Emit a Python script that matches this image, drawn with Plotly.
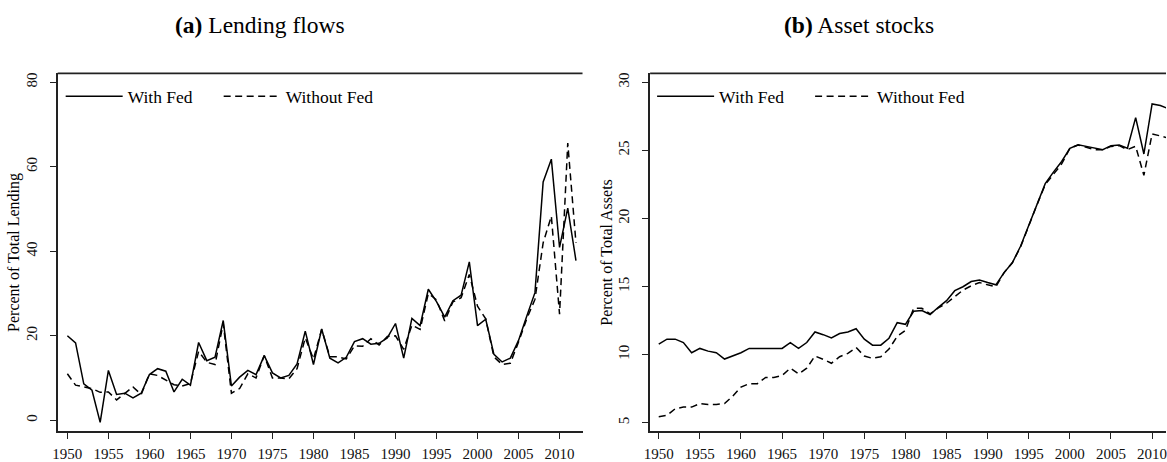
import plotly.graph_objects as go

years = list(range(1950, 2013))

lending_with_fed = [
    20.0, 18.3, 8.6, 7.1, -0.5, 11.8, 6.1, 6.4, 5.3, 6.4,
    10.8, 12.2, 11.6, 6.7, 9.7, 8.3, 18.4, 14.1, 14.9, 23.6,
    8.1, 10.2, 11.8, 10.8, 15.3, 11.2, 10.0, 10.6, 13.3, 21.1,
    13.2, 21.6, 14.7, 13.6, 14.9, 18.6, 19.3, 18.0, 18.2, 19.5,
    22.9, 14.7, 24.1, 22.4, 31.0, 28.1, 24.4, 28.3, 29.6, 37.5,
    22.4, 23.9, 15.6, 13.8, 14.7, 18.9, 24.6, 30.2, 56.4, 61.8,
    40.9, 50.2, 37.8,
]
lending_without_fed = [
    11.0, 8.3, 7.9, 7.5, 6.6, 6.7, 4.8, 6.4, 7.9, 6.1,
    11.0, 10.6, 9.5, 8.4, 8.1, 8.7, 16.3, 13.7, 13.2, 22.9,
    6.4, 7.5, 11.0, 10.0, 15.3, 10.0, 10.0, 9.8, 12.2, 19.5,
    14.5, 21.5, 15.0, 15.0, 14.5, 17.6, 17.5, 19.3, 17.8, 19.8,
    20.0, 16.8, 22.5, 21.5, 30.0, 28.5, 23.5, 28.0, 29.0, 34.5,
    27.0, 24.0, 15.0, 13.2, 13.5, 18.5, 24.0, 28.6, 42.0, 48.3,
    25.1, 65.6, 42.0,
]
assets_with_fed = [
    10.76, 11.13, 11.13, 10.88, 10.13, 10.45, 10.25, 10.13, 9.67, 9.89,
    10.13, 10.45, 10.45, 10.45, 10.45, 10.45, 10.88, 10.45, 10.88, 11.66,
    11.46, 11.22, 11.54, 11.66, 11.90, 11.13, 10.69, 10.69, 11.20, 12.34,
    12.22, 13.18, 13.23, 12.94, 13.47, 13.96, 14.69, 14.98, 15.36, 15.48,
    15.29, 15.12, 16.02, 16.74, 17.95, 19.53, 21.03, 22.55, 23.40, 24.18,
    25.15, 25.41, 25.29, 25.15, 25.05, 25.34, 25.39, 25.15, 27.40, 24.73,
    28.41, 28.29, 28.05,
]
assets_without_fed = [
    5.44, 5.53, 6.02, 6.14, 6.14, 6.40, 6.33, 6.33, 6.40, 6.94,
    7.61, 7.86, 7.86, 8.32, 8.32, 8.46, 9.00, 8.58, 9.00, 9.89,
    9.65, 9.36, 9.84, 10.08, 10.52, 9.89, 9.72, 9.84, 10.40, 11.34,
    11.78, 13.40, 13.40, 12.99, 13.43, 13.77, 14.25, 14.73, 15.05, 15.29,
    15.12, 14.98, 16.02, 16.74, 17.90, 19.48, 21.00, 22.48, 23.28, 24.00,
    25.15, 25.39, 25.22, 25.05, 25.05, 25.29, 25.34, 25.05, 25.30, 23.16,
    26.21, 26.07, 25.90,
]

x_ticks = list(range(1950, 2011, 5))
left_y_ticks = [0, 20, 40, 60, 80]
right_y_ticks = [5, 10, 15, 20, 25, 30]
series_names = ["With Fed", "Without Fed"]
panel_titles = ["<b>(a)</b> Lending flows", "<b>(b)</b> Asset stocks"]
y_titles = ["Percent of Total Lending", "Percent of Total Assets"]

W, H = 1167, 462
FONT = "Liberation Serif"
DASH = "7px,4.5px"

fig = go.Figure()

def px_x(p):
    return p / W

def px_y(p):
    return 1 - p / H

# Left panel
fig.add_trace(go.Scatter(x=years, y=lending_with_fed, mode="lines", name=series_names[0],
                         line=dict(color="black", width=1.5), xaxis="x", yaxis="y", legend="legend"))
fig.add_trace(go.Scatter(x=years, y=lending_without_fed, mode="lines", name=series_names[1],
                         line=dict(color="black", width=1.5, dash=DASH), xaxis="x", yaxis="y", legend="legend"))
# Right panel
fig.add_trace(go.Scatter(x=years, y=assets_with_fed, mode="lines", name=series_names[0],
                         line=dict(color="black", width=1.5), xaxis="x2", yaxis="y2", legend="legend2"))
fig.add_trace(go.Scatter(x=years, y=assets_without_fed, mode="lines", name=series_names[1],
                         line=dict(color="black", width=1.5, dash=DASH), xaxis="x2", yaxis="y2", legend="legend2"))

common_axis = dict(showgrid=False, zeroline=False, showline=True, linecolor="#222", linewidth=1.8,
                   ticks="outside", ticklen=6, tickwidth=1.3, tickcolor="#222",
                   ticklabeloverflow="allow",
                   tickfont=dict(family=FONT, size=15, color="#111"))

y_dom = [px_y(440), px_y(74)]
legend_common = dict(xanchor="left", yanchor="top", orientation="h",
                     bgcolor="rgba(0,0,0,0)", font=dict(family=FONT, size=17.5),
                     entrywidth=86, itemwidth=57)

fig.update_layout(
    width=W, height=H,
    margin=dict(l=0, r=0, t=0, b=0),
    paper_bgcolor="white", plot_bgcolor="white",
    font=dict(family=FONT, color="black"),
    xaxis=dict(domain=[px_x(52), px_x(580)], range=[1948.82, 2012.8], tickvals=x_ticks,
               anchor="y", ticklabelstandoff=2, **common_axis),
    yaxis=dict(domain=y_dom, range=[-2.66, 82.1], tickvals=left_y_ticks, tickangle=-90,
               anchor="x", ticklabelstandoff=7,
               title=dict(text=y_titles[0], font=dict(family=FONT, size=16), standoff=0),
               **common_axis),
    xaxis2=dict(domain=[px_x(648), 1.0], range=[1948.95, 2011.69], tickvals=x_ticks,
                anchor="y2", ticklabelstandoff=2, **common_axis),
    yaxis2=dict(domain=y_dom, range=[4.35, 30.65], tickvals=right_y_ticks, tickangle=-90,
                anchor="x2", ticklabelstandoff=7,
                title=dict(text=y_titles[1], font=dict(family=FONT, size=16), standoff=0),
                **common_axis),
    legend=dict(x=px_x(55), y=px_y(79), **legend_common),
    legend2=dict(x=px_x(650), y=px_y(79), **legend_common),
    annotations=[
        dict(text=panel_titles[0], x=px_x(256), y=px_y(25), xref="paper", yref="paper",
             xanchor="center", yanchor="middle",
             showarrow=False, font=dict(family=FONT, size=23.5, color="black")),
        dict(text=panel_titles[1], x=px_x(858), y=px_y(25), xref="paper", yref="paper",
             xanchor="center", yanchor="middle",
             showarrow=False, font=dict(family=FONT, size=23.5, color="black")),
    ],
    shapes=[
        dict(type="line", xref="x domain", yref="y domain", x0=0, x1=1, y0=1, y1=1,
             line=dict(color="#222", width=1.8)),
        dict(type="line", xref="x2 domain", yref="y2 domain", x0=0, x1=1, y0=1, y1=1,
             line=dict(color="#222", width=1.8)),
    ],
)

fig.write_html(
    "out.html",
    config={"displayModeBar": False},
    post_script=(
        "document.documentElement.style.margin='0';"
        "document.body.style.margin='0';"
        "document.documentElement.style.overflow='hidden';"
        "document.body.style.overflow='hidden';"
    ),
)
